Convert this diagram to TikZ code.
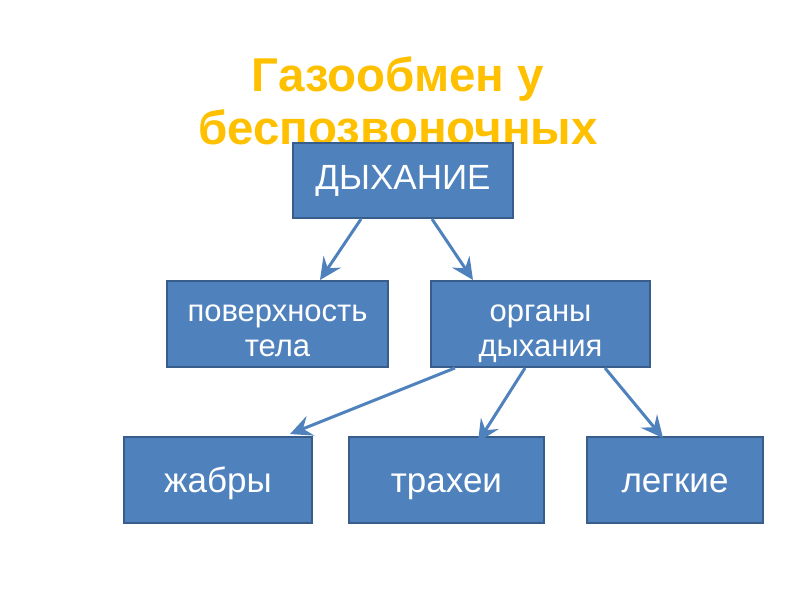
\documentclass[tikz,border=0pt]{standalone}
\usepackage{fontspec}
\setmainfont{Liberation Sans}
\usetikzlibrary{arrows.meta}
\definecolor{boxfill}{HTML}{4F81BD}
\definecolor{boxline}{HTML}{385D8A}
\definecolor{titlecol}{HTML}{FFC000}
\newcommand{\topst}{\rule{0pt}{36pt}}
\newcommand{\botst}{\rule[-7pt]{0pt}{7pt}}
\begin{document}
\begin{tikzpicture}[x=1pt,y=-1pt,
  box/.style={draw=boxline,line width=1.5pt,fill=boxfill,text=white,align=center,inner sep=0pt},
  twoline/.style={box,minimum height=86pt,font=\fontsize{31}{35}\selectfont},
  oneline/.style={box,minimum height=86pt,font=\fontsize{35}{40}\selectfont,text height=24pt,text depth=0pt},
  conn/.style={draw=boxfill,line width=3pt,-{Stealth[length=22pt,width=21pt,inset=8pt]}}]
\useasboundingbox (0,0) rectangle (800,600);
\node[text=titlecol,font=\bfseries\fontsize{47.5}{53}\selectfont,align=center] (title) at (398,101) {Газообмен у\\беспозвоночных};
\node[box,minimum width=220pt,minimum height=75pt,font=\fontsize{35}{40}\selectfont] (dyh) at (403,180.5) {ДЫХАНИЕ};
\node[twoline,minimum width=221pt] (pov) at (277.5,324) {\topst поверхность\\тела\botst};
\node[twoline,minimum width=219pt] (org) at (540.5,324) {\topst органы\\дыхания\botst};
\node[oneline,minimum width=188pt] (zh) at (218,480) {жабры};
\node[oneline,minimum width=195pt] (tr) at (446.5,480) {трахеи};
\node[oneline,minimum width=176pt] (lg) at (675,480) {легкие};
\coordinate (a1s) at (361,219);
\coordinate (a2s) at (432,219);
\coordinate (b1s) at (455,368);
\coordinate (b2s) at (525,368);
\coordinate (b3s) at (605,368);
\coordinate (a1e) at (320,280);
\coordinate (a2e) at (473,280);
\coordinate (b1e) at (290,434);
\coordinate (b2e) at (478,442);
\coordinate (b3e) at (663,438);
\draw[conn] (a1s) -- (a1e);
\draw[conn] (a2s) -- (a2e);
\draw[conn] (b1s) -- (b1e);
\draw[conn] (b2s) -- (b2e);
\draw[conn] (b3s) -- (b3e);
\end{tikzpicture}
\end{document}
